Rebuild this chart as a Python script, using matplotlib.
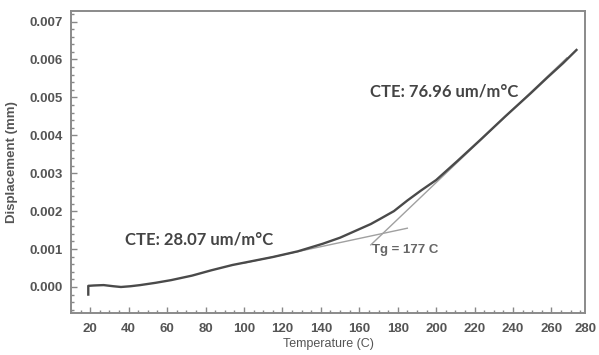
import matplotlib
matplotlib.use("Agg")
import matplotlib.pyplot as plt
from matplotlib.ticker import MultipleLocator

# measured curve (temperature in C, displacement in mm)
temp = [19, 19, 22, 27, 32, 36, 41, 46, 54, 62, 73, 83, 94, 104, 115, 128,
        141, 150, 158, 166, 171, 178, 185, 192, 200, 211, 223, 236, 249,
        258, 266, 273]
disp = [-0.0002, 0.00003, 0.00004, 0.00005, 0.00002, 0.0, 0.00002, 0.00005,
        0.00011, 0.00018, 0.0003, 0.00044, 0.00058, 0.00068, 0.00079, 0.00094,
        0.00114, 0.0013, 0.00148, 0.00166, 0.0018, 0.002, 0.00228, 0.00254,
        0.00282, 0.00332, 0.00388, 0.0045, 0.0051, 0.00553, 0.0059, 0.00625]

# tangent lines used for Tg
low_x = [100, 185]
low_y = [0.00063, 0.00155]
high_x = [166, 268]
high_y = [0.00111, 0.00604]

xticks = list(range(20, 281, 20))
yticks = [0.000, 0.001, 0.002, 0.003, 0.004, 0.005, 0.006, 0.007]

txt_col = "#555555"
plt.rcParams['font.family'] = ['Liberation Sans', 'DejaVu Sans']

fig = plt.figure(figsize=(5.99, 3.55), dpi=100)
ax = fig.add_axes([0.1185, 0.1183, 0.858, 0.851])

ax.plot(low_x, low_y, color="#a0a0a0", lw=1.0)
ax.plot(high_x, high_y, color="#a0a0a0", lw=1.0)
ax.plot(temp, disp, color="#4a4a4a", lw=1.7)

ax.set_xlim(10, 277.4)
ax.set_ylim(-0.000686, 0.00728)
ax.set_xticks([t for t in xticks if t <= 277])
ax.set_yticks(yticks)
ax.set_yticklabels(["%.3f" % v for v in yticks])
ax.xaxis.set_minor_locator(MultipleLocator(5))
ax.yaxis.set_minor_locator(MultipleLocator(0.0002))

ax.tick_params(which="both", direction="in", colors="#888888",
               labelcolor=txt_col, labelsize=9.5)
ax.tick_params(which="major", length=4, width=1)
ax.tick_params(which="minor", length=2.5, width=1)
ax.tick_params(axis="x", pad=7)
ax.tick_params(axis="y", pad=6)
for lab in ax.get_xticklabels() + ax.get_yticklabels():
    lab.set_fontweight("bold")
for sp in ax.spines.values():
    sp.set_color("#8a8a8a")
    sp.set_linewidth(1.4)

# the source shows a 280 label just past the frame
ax.annotate("280", xy=(280, 0), xycoords=("data", "axes fraction"),
            xytext=(-3, -7), textcoords="offset points", ha="center", va="top",
            fontsize=9.5, fontweight="bold", color=txt_col, annotation_clip=False)

ax.set_xlabel("Temperature (C)", fontsize=9, color=txt_col, labelpad=2)
ax.set_ylabel("Displacement (mm)", fontsize=9.5, fontweight="bold",
              color=txt_col, labelpad=8)

ax.text(38, 0.00124, "CTE: 28.07 um/m°C", fontsize=12, fontweight="bold",
        color="#444444", va="center", family=["Lato", "DejaVu Sans"])
ax.text(165.5, 0.00515, "CTE: 76.96 um/m°C", fontsize=12, fontweight="bold",
        color="#444444", va="center", family=["Lato", "DejaVu Sans"])
ax.text(166.5, 0.00098, "Tg = 177 C", fontsize=9.5, fontweight="bold",
        color="#666666", va="center")

fig.savefig("out.png", dpi=100)
